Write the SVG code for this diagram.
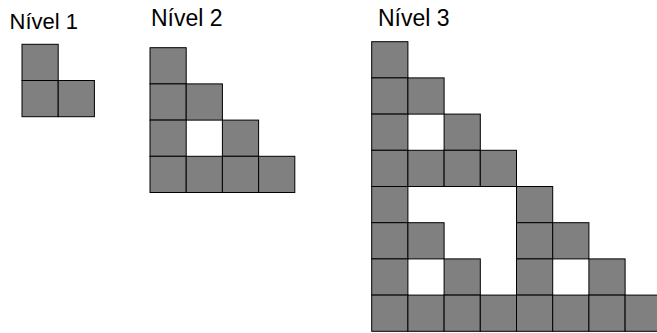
<svg xmlns="http://www.w3.org/2000/svg" width="657" height="333" viewBox="0 0 657 333">
<style>
.t{font-family:"Liberation Sans",Arial,sans-serif;font-size:22px;fill:#000}
.t2{font-size:23px}
.c{fill:#808080;stroke:#000;stroke-width:1}
</style>
<defs><rect id="s" class="c" width="36.2" height="36.2"/></defs>
<rect width="657" height="333" fill="#fff"/>
<g id="level1">
<text class="t" x="9.5" y="29">Nível 1</text>
<use href="#s" x="22" y="44.3"/>
<use href="#s" x="22" y="80.5"/><use href="#s" x="58.2" y="80.5"/>
</g>
<g id="level2">
<text class="t t2" x="151" y="25.5">Nível 2</text>
<use href="#s" x="150" y="47.7"/>
<use href="#s" x="150" y="83.9"/><use href="#s" x="186.2" y="83.9"/>
<use href="#s" x="150" y="120.1"/><use href="#s" x="222.4" y="120.1"/>
<use href="#s" x="150" y="156.3"/><use href="#s" x="186.2" y="156.3"/><use href="#s" x="222.4" y="156.3"/><use href="#s" x="258.6" y="156.3"/>
</g>
<g id="level3">
<text class="t t2" x="378" y="25.5">Nível 3</text>
<use href="#s" x="371.7" y="41.7"/>
<use href="#s" x="371.7" y="77.9"/><use href="#s" x="407.9" y="77.9"/>
<use href="#s" x="371.7" y="114.1"/><use href="#s" x="444.1" y="114.1"/>
<use href="#s" x="371.7" y="150.3"/><use href="#s" x="407.9" y="150.3"/><use href="#s" x="444.1" y="150.3"/><use href="#s" x="480.3" y="150.3"/>
<use href="#s" x="371.7" y="186.5"/><use href="#s" x="516.5" y="186.5"/>
<use href="#s" x="371.7" y="222.7"/><use href="#s" x="407.9" y="222.7"/><use href="#s" x="516.5" y="222.7"/><use href="#s" x="552.7" y="222.7"/>
<use href="#s" x="371.7" y="258.9"/><use href="#s" x="444.1" y="258.9"/><use href="#s" x="516.5" y="258.9"/><use href="#s" x="588.9" y="258.9"/>
<use href="#s" x="371.7" y="295.1"/><use href="#s" x="407.9" y="295.1"/><use href="#s" x="444.1" y="295.1"/><use href="#s" x="480.3" y="295.1"/><use href="#s" x="516.5" y="295.1"/><use href="#s" x="552.7" y="295.1"/><use href="#s" x="588.9" y="295.1"/><use href="#s" x="625.1" y="295.1"/>
</g>
</svg>
